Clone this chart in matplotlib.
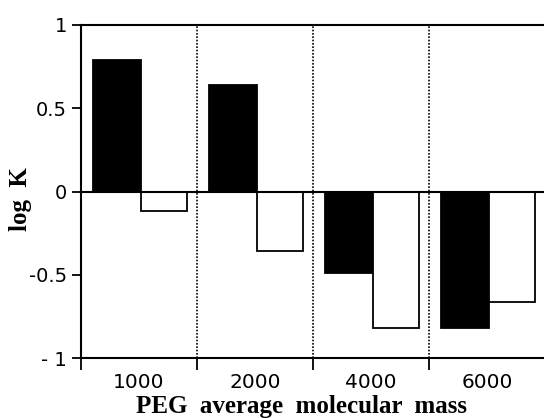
import matplotlib.pyplot as plt

# log K for each PEG size: filled and open bars
peg_sizes = ["1000", "2000", "4000", "6000"]
logk_filled = [0.79, 0.64, -0.49, -0.82]
logk_open = [-0.115, -0.355, -0.82, -0.665]
ytick_values = [1, 0.5, 0, -0.5, -1]
ytick_labels = ["1", "0.5", "0", "-0.5", "- 1"]

fig = plt.figure(figsize=(5.44, 4.18), dpi=100)
ax = fig.add_axes([81 / 544, 60 / 418, 464 / 544, 333 / 418])

x = list(range(len(peg_sizes)))
ax.bar([i - 0.395 for i in x], logk_filled, width=0.41, align='edge',
       color='black', edgecolor='black', linewidth=1.3, zorder=3)
ax.bar([i + 0.015 for i in x], logk_open, width=0.40, align='edge',
       color='white', edgecolor='black', linewidth=1.3, zorder=3)

ax.axhline(0, color='black', linewidth=1.5, zorder=4)
for b in [0.5, 1.5, 2.5]:
    ax.axvline(b, color='black', linestyle=(0, (1, 1)), linewidth=1.2, zorder=1)

ax.set_xlim(-0.5, 3.5)
ax.set_ylim(-1, 1)

ax.set_xticks([-0.5, 0.5, 1.5, 2.5])
ax.set_xticklabels([])
ax.set_xticks(x, minor=True)
ax.set_xticklabels(peg_sizes, minor=True, fontsize=14.5, family='DejaVu Sans')
ax.tick_params(axis='x', which='major', direction='out', length=8.5, width=1.3)
ax.tick_params(axis='x', which='minor', length=0, pad=10.5)

ax.set_yticks(ytick_values)
ax.set_yticklabels(ytick_labels, fontsize=14, family='DejaVu Sans')
ax.tick_params(axis='y', direction='out', length=6.5, width=1.3, pad=3.5)

for side in ['left', 'bottom', 'top']:
    ax.spines[side].set_linewidth(1.5)
ax.spines['right'].set_visible(False)

fig.text(302 / 544, 0.0, "PEG  average  molecular  mass", ha='center', va='bottom',
         fontsize=18, fontweight='bold', family='Liberation Serif')
fig.text(20 / 544, (418 - 199) / 418, "log  K", ha='center', va='center', rotation=90,
         fontsize=18, fontweight='bold', family='Liberation Serif')

fig.savefig("out.png", dpi=100)
